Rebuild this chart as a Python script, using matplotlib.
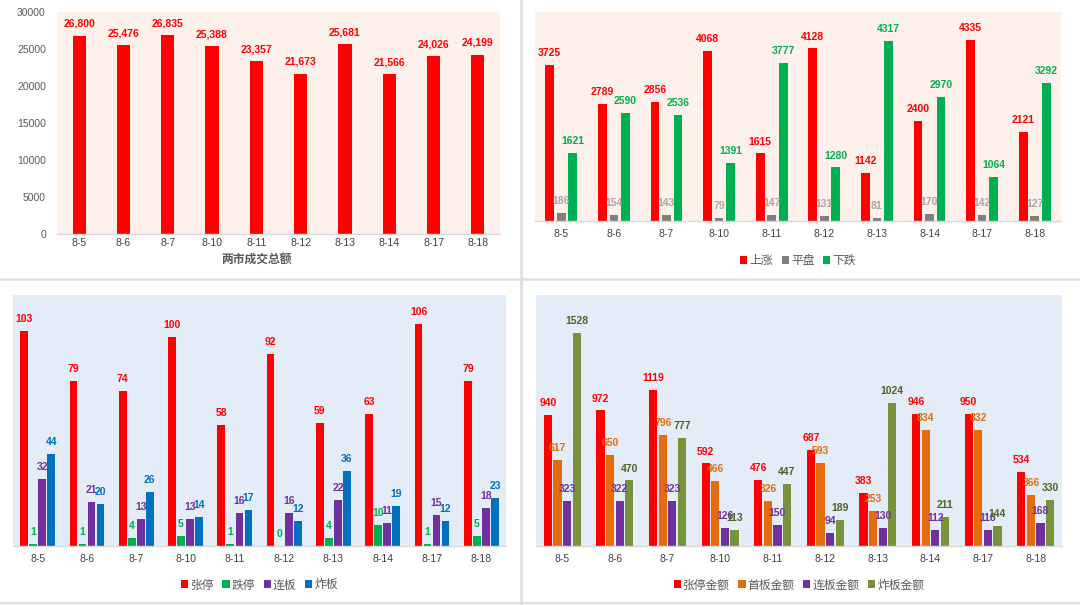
import matplotlib
matplotlib.use("Agg")
import matplotlib.pyplot as plt
from matplotlib.patches import Patch
from matplotlib.lines import Line2D
import numpy as np

plt.rcParams['font.family'] = ['Liberation Sans', 'Noto Sans CJK SC', 'DejaVu Sans']

dates = ["8-5", "8-6", "8-7", "8-10", "8-11", "8-12", "8-13", "8-14", "8-17", "8-18"]

# Panel 1: total turnover
turnover = [26800, 25476, 26835, 25388, 23357, 21673, 25681, 21566, 24026, 24199]

# Panel 2: advance / flat / decline
up = [3725, 2789, 2856, 4068, 1615, 4128, 1142, 2400, 4335, 2121]
flat = [186, 154, 143, 79, 147, 131, 81, 170, 142, 127]
down = [1621, 2590, 2536, 1391, 3777, 1280, 4317, 2970, 1064, 3292]

# Panel 3: limit counts
limit_up = [103, 79, 74, 100, 58, 92, 59, 63, 106, 79]
limit_down = [1, 1, 4, 5, 1, 0, 4, 10, 1, 5]
consecutive = [32, 21, 13, 13, 16, 16, 22, 11, 15, 18]
broken = [44, 20, 26, 14, 17, 12, 36, 19, 12, 23]

# Panel 4: amounts
amt_limit_up = [940, 972, 1119, 592, 476, 687, 383, 946, 950, 534]
amt_first = [617, 650, 796, 466, 326, 593, 253, 834, 832, 366]
amt_consec = [323, 322, 323, 126, 150, 94, 130, 112, 118, 168]
amt_broken = [1528, 470, 777, 113, 447, 189, 1024, 211, 144, 330]

W, H = 1080, 605
fig = plt.figure(figsize=(W / 100, H / 100), dpi=100)
fig.patch.set_facecolor("white")


def add_ax(x0, y0, x1, y1):
    return fig.add_axes([x0 / W, 1 - y1 / H, (x1 - x0) / W, (y1 - y0) / H])


TICK_C = "#404040"


def style(ax, bg, ymax, pad=4):
    ax.set_facecolor(bg)
    ax.set_xlim(-0.5, len(dates) - 0.5)
    ax.set_ylim(0, ymax)
    for s in ["top", "right", "left"]:
        ax.spines[s].set_visible(False)
    ax.spines["bottom"].set_color("#D9D9D9")
    ax.spines["bottom"].set_linewidth(1.0)
    ax.set_xticks(np.arange(len(dates)))
    ax.set_xticklabels(dates)
    ax.tick_params(axis="x", length=0, pad=pad, labelsize=7.5, labelcolor=TICK_C)


def grouped(ax, series, colors, lcolors, width, step, fmt="{}"):
    n = len(series)
    x = np.arange(len(dates))
    for i, (vals, c, lc) in enumerate(zip(series, colors, lcolors)):
        off = (i - (n - 1) / 2) * step
        bars = ax.bar(x + off, vals, width=width, color=c, zorder=2)
        for b, v in zip(bars, vals):
            ax.annotate(fmt.format(v), (b.get_x() + b.get_width() / 2, b.get_height()),
                        xytext=(0, 5), textcoords="offset points", ha="center",
                        va="bottom", fontsize=7.5, fontweight="bold", color=lc, zorder=3)


def legend(ax, labels, colors, y):
    handles = [Patch(facecolor=c, edgecolor="none") for c in colors]
    ax.legend(handles, labels, loc="center", bbox_to_anchor=(0.5, y), ncol=len(labels),
              frameon=False, handlelength=0.6, handleheight=0.6, handletextpad=0.2,
              columnspacing=0.7, prop={"family": ["Noto Sans CJK SC"], "size": 8.5},
              labelcolor="#595959")


# ---- Panel 1
ax1 = add_ax(57, 12, 500, 234)
style(ax1, "#FEF0EA", 30000, pad=3)
ax1.set_yticks(np.arange(0, 30001, 5000))
ax1.tick_params(axis="y", length=0, labelsize=7.5, labelcolor="#595959", pad=8)
grouped(ax1, [turnover], ["#FF0000"], ["#FF0000"], 0.30, 0, fmt="{:,}")
fig.text(257 / W, 1 - 259 / H, "两市成交总额", ha="center", va="center",
         fontsize=8.5, fontweight="bold", color="#595959", family=["Noto Sans CJK SC"])

# ---- Panel 2
ax2 = add_ax(535, 12, 1061, 221)
style(ax2, "#FEF0EA", 5000, pad=6)
ax2.set_yticks([])
grouped(ax2, [up, flat, down], ["#FF0000", "#7F7F7F", "#00B050"],
        ["#FF0000", "#A6A6A6", "#00B050"], 0.167, 0.219)
legend(ax2, ["上涨", "平盘", "下跌"], ["#FF0000", "#7F7F7F", "#00B050"], -0.19)

# ---- Panel 3
ax3 = add_ax(13, 295, 506, 546)
style(ax3, "#E4ECF7", 120, pad=6)
ax3.set_yticks([])
grouped(ax3, [limit_up, limit_down, consecutive, broken],
        ["#FF0000", "#00B050", "#7030A0", "#0070C0"],
        ["#FF0000", "#00B050", "#7030A0", "#0070C0"], 0.156, 0.183)
legend(ax3, ["张停", "跌停", "连板", "炸板"], ["#FF0000", "#00B050", "#7030A0", "#0070C0"], -0.155)

# ---- Panel 4
ax4 = add_ax(536, 295, 1062, 546)
style(ax4, "#E4ECF7", 1800, pad=6)
ax4.set_yticks([])
grouped(ax4, [amt_limit_up, amt_first, amt_consec, amt_broken],
        ["#FF0000", "#E46C0A", "#7030A0", "#77933C"],
        ["#FF0000", "#E46C0A", "#7030A0", "#4F6228"], 0.154, 0.182)
legend(ax4, ["张停金额", "首板金额", "连板金额", "炸板金额"],
       ["#FF0000", "#E46C0A", "#7030A0", "#77933C"], -0.155)

# ---- separators
sep = "#DEDEDE"
fig.add_artist(Line2D([521 / W, 521 / W], [0, 1], color=sep, lw=1.8))
fig.add_artist(Line2D([0, 1], [1 - 279 / H, 1 - 279 / H], color=sep, lw=1.8))
fig.add_artist(Line2D([0, 1], [1 - 603 / H, 1 - 603 / H], color=sep, lw=1.5))

fig.savefig("out.png", dpi=100, facecolor="white")
